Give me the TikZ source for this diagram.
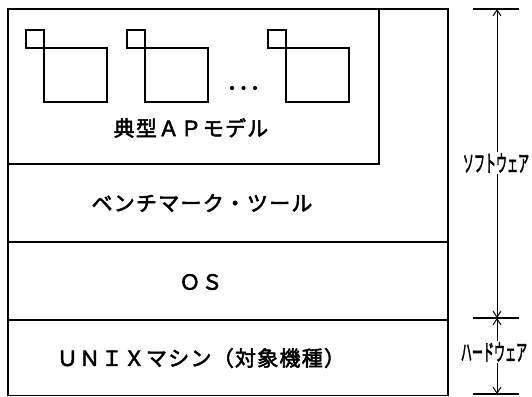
\documentclass[tikz,border=0pt]{standalone}
\usepackage{fontspec}
\setmainfont{Noto Sans CJK JP}
\newfontfamily\layfont[LetterSpace=6,FakeBold=2.5]{Noto Sans CJK JP}
\newfontfamily\sidefont[FakeBold=3]{Noto Sans CJK JP}
\usetikzlibrary{arrows.meta}
\begin{document}
\begin{tikzpicture}[x=1pt,y=-1pt,
  frame/.style={line width=1.1pt},
  lay/.style={font=\layfont\fontsize{21}{23}\selectfont, inner sep=0pt},
  side/.style={font=\sidefont\fontsize{23}{25}\selectfont, inner sep=1pt, xscale=0.48, transform shape},
  dim/.style={line width=1.0pt, -{Straight Barb[length=6pt,width=8pt]}},
  tick/.style={line width=1.1pt},
  sq/.style={line width=1.1pt}]
\useasboundingbox (0,0) rectangle (532,396);
% outer frame and layers
\draw[frame] (8,9) rectangle (448,395.5);
\draw[frame] (8,164) -- (379,164) -- (379,9);
\draw[frame] (8,242) -- (448,242);
\draw[frame] (8,320) -- (448,320);
% AP model boxes
\foreach \x in {26,127,268}{
  \draw[sq] (\x,30) rectangle ++(18,18);
  \draw[sq] (\x+18,48) rectangle ++(63,54);
}
\foreach \x in {232,243.5,255}{ \fill (\x,88) circle (2.1pt); }
% layer labels
\node[lay] (ap) at (191,128) {典型ＡＰモデル};
\node[lay] (bench) at (202,203) {ベンチマーク・ツール};
\node[lay] (os) at (201,282) {ＯＳ};
\node[lay] (unix) at (201,358) {ＵＮＩＸマシン（対象機種）};
% dimension ticks
\coordinate (t1) at (497,9);
\coordinate (t2) at (497,318);
\coordinate (t3) at (497,394);
\draw[tick] (473,9) -- (519,9);
\draw[tick] (473,318) -- (519,318);
\draw[tick] (473,394) -- (519,394);
\node[side] (soft) at (496,163) {ソフトウェア};
\node[side] (hard) at (494,352) {ハードウェア};
\draw[dim] (soft.north -| t1) -- (t1);
\draw[dim] (soft.south -| t1) -- (t2);
\draw[dim] (hard.north -| t2) -- (t2);
\draw[dim] (hard.south -| t3) -- (t3);
\end{tikzpicture}
\end{document}
